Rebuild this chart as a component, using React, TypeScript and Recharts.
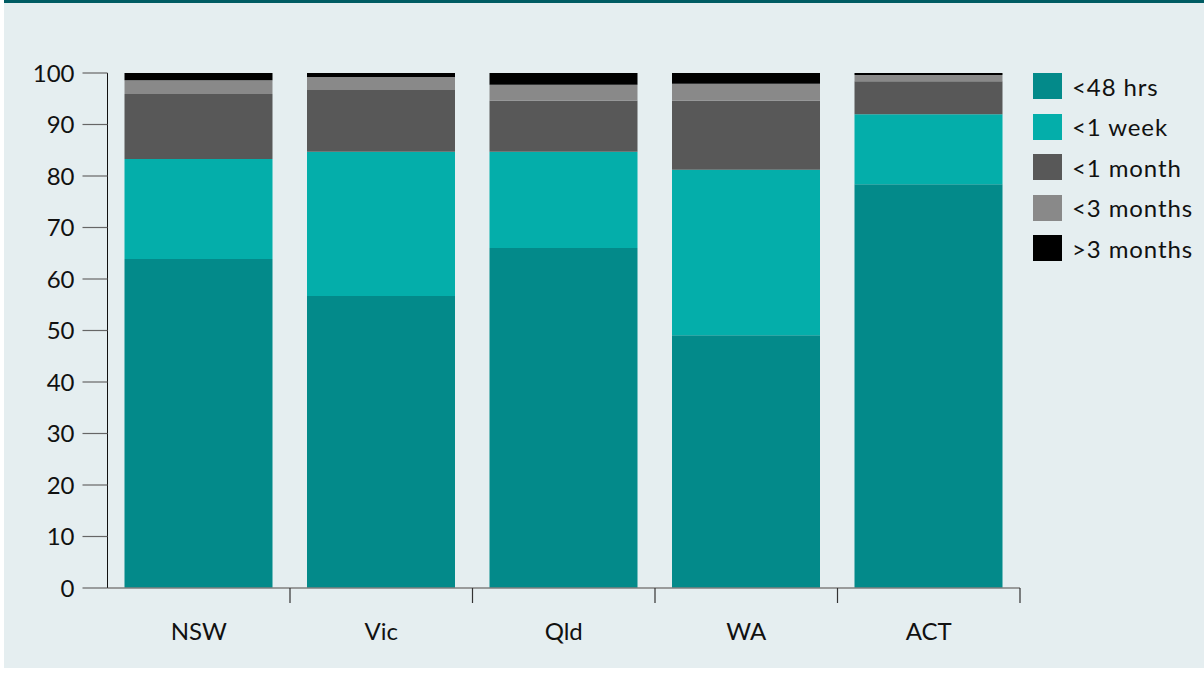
import { BarChart, Bar, XAxis, YAxis, Legend } from 'recharts';

const categories = ['NSW', 'Vic', 'Qld', 'WA', 'ACT'];
const under48hrs = [63.9, 56.7, 66.0, 49.1, 78.4];
const under1week = [19.4, 28.0, 18.7, 32.1, 13.6];
const under1month = [12.6, 12.0, 9.9, 13.4, 6.4];
const under3months = [2.7, 2.5, 3.1, 3.3, 1.2];
const over3months = [1.4, 0.8, 2.3, 2.1, 0.4];
const yTicks = [0, 10, 20, 30, 40, 50, 60, 70, 80, 90, 100];

const series = [
  { key: 'h48', name: '<48 hrs', color: '#038a8a', values: under48hrs },
  { key: 'w1', name: '<1 week', color: '#04aeaa', values: under1week },
  { key: 'm1', name: '<1 month', color: '#585858', values: under1month },
  { key: 'm3', name: '<3 months', color: '#898989', values: under3months },
  { key: 'm3p', name: '>3 months', color: '#000000', values: over3months },
];

const FONT = 'Lato, "Open Sans", sans-serif';
const PLOT_LEFT = 107.5;
const PLOT_RIGHT = 1020;
const CHART_W = 1204;

const data = categories.map((name, i) => {
  const row: Record<string, string | number> = { name };
  series.forEach((s) => {
    row[s.key] = s.values[i];
  });
  return row;
});

function CategoryTick(props: any) {
  const { x, y, payload } = props;
  const half =
    payload && typeof payload.offset === 'number' && payload.offset > 0
      ? payload.offset
      : (PLOT_RIGHT - PLOT_LEFT) / categories.length / 2;
  return (
    <g>
      <line x1={x + half} x2={x + half} y1={y - 8} y2={y + 7} stroke="#333" strokeWidth={1.2} />
      <text
        x={x}
        y={y + 44}
        textAnchor="middle"
        fill="#111"
        fontSize={24}
        fontFamily={FONT}
      >
        {payload.value}
      </text>
    </g>
  );
}

// legend in series order (recharts sorts by name otherwise)
function LegendBox(props: any) {
  const payload = [...(props.payload || [])].sort(
    (a: any, b: any) =>
      series.findIndex((s) => s.name === a.value) - series.findIndex((s) => s.name === b.value)
  );
  return (
    <div style={{ fontFamily: FONT }}>
      {payload.map((p: any) => (
        <div key={p.value} style={{ display: 'flex', alignItems: 'center', height: 40.5 }}>
          <div style={{ width: 29, height: 26, background: p.color, marginRight: 10 }} />
          <span style={{ fontSize: 24, color: '#111', letterSpacing: 0.9 }}>{p.value}</span>
        </div>
      ))}
    </div>
  );
}

export default function App() {
  return (
    <div style={{ position: 'absolute', left: 0, top: 0, width: 1204, height: 673, background: '#fff' }}>
      <div
        style={{
          position: 'absolute',
          left: 4,
          top: 0,
          width: 1200,
          height: 665,
          background: '#e5eef0',
          borderTop: '3px solid #005c63',
        }}
      />
      <div style={{ position: 'absolute', left: 0, top: 0 }}>
        <BarChart
          width={CHART_W}
          height={673}
          data={data}
          margin={{ top: 73, right: CHART_W - PLOT_RIGHT, bottom: 25, left: PLOT_LEFT - 100 }}
          barSize={148}
        >
          <XAxis
            dataKey="name"
            height={60}
            axisLine={{ stroke: '#7f7f7f', strokeWidth: 1.5 }}
            tickLine={false}
            tick={<CategoryTick />}
            interval={0}
          />
          <YAxis
            width={100}
            domain={[0, 100]}
            ticks={yTicks}
            interval={0}
            tickSize={25}
            tickMargin={8}
            axisLine={{ stroke: '#111', strokeWidth: 1 }}
            tickLine={{ stroke: '#666', strokeWidth: 1.2 }}
            tick={{ fontSize: 24, fill: '#111', fontFamily: FONT }}
          />
          <Legend
            layout="vertical"
            align="center"
            verticalAlign="middle"
            content={<LegendBox />}
            wrapperStyle={{ left: 1033, top: 66, width: 170 }}
          />
          {series.map((s) => (
            <Bar
              key={s.key}
              dataKey={s.key}
              name={s.name}
              stackId="a"
              fill={s.color}
              isAnimationActive={false}
            />
          ))}
        </BarChart>
      </div>
    </div>
  );
}
